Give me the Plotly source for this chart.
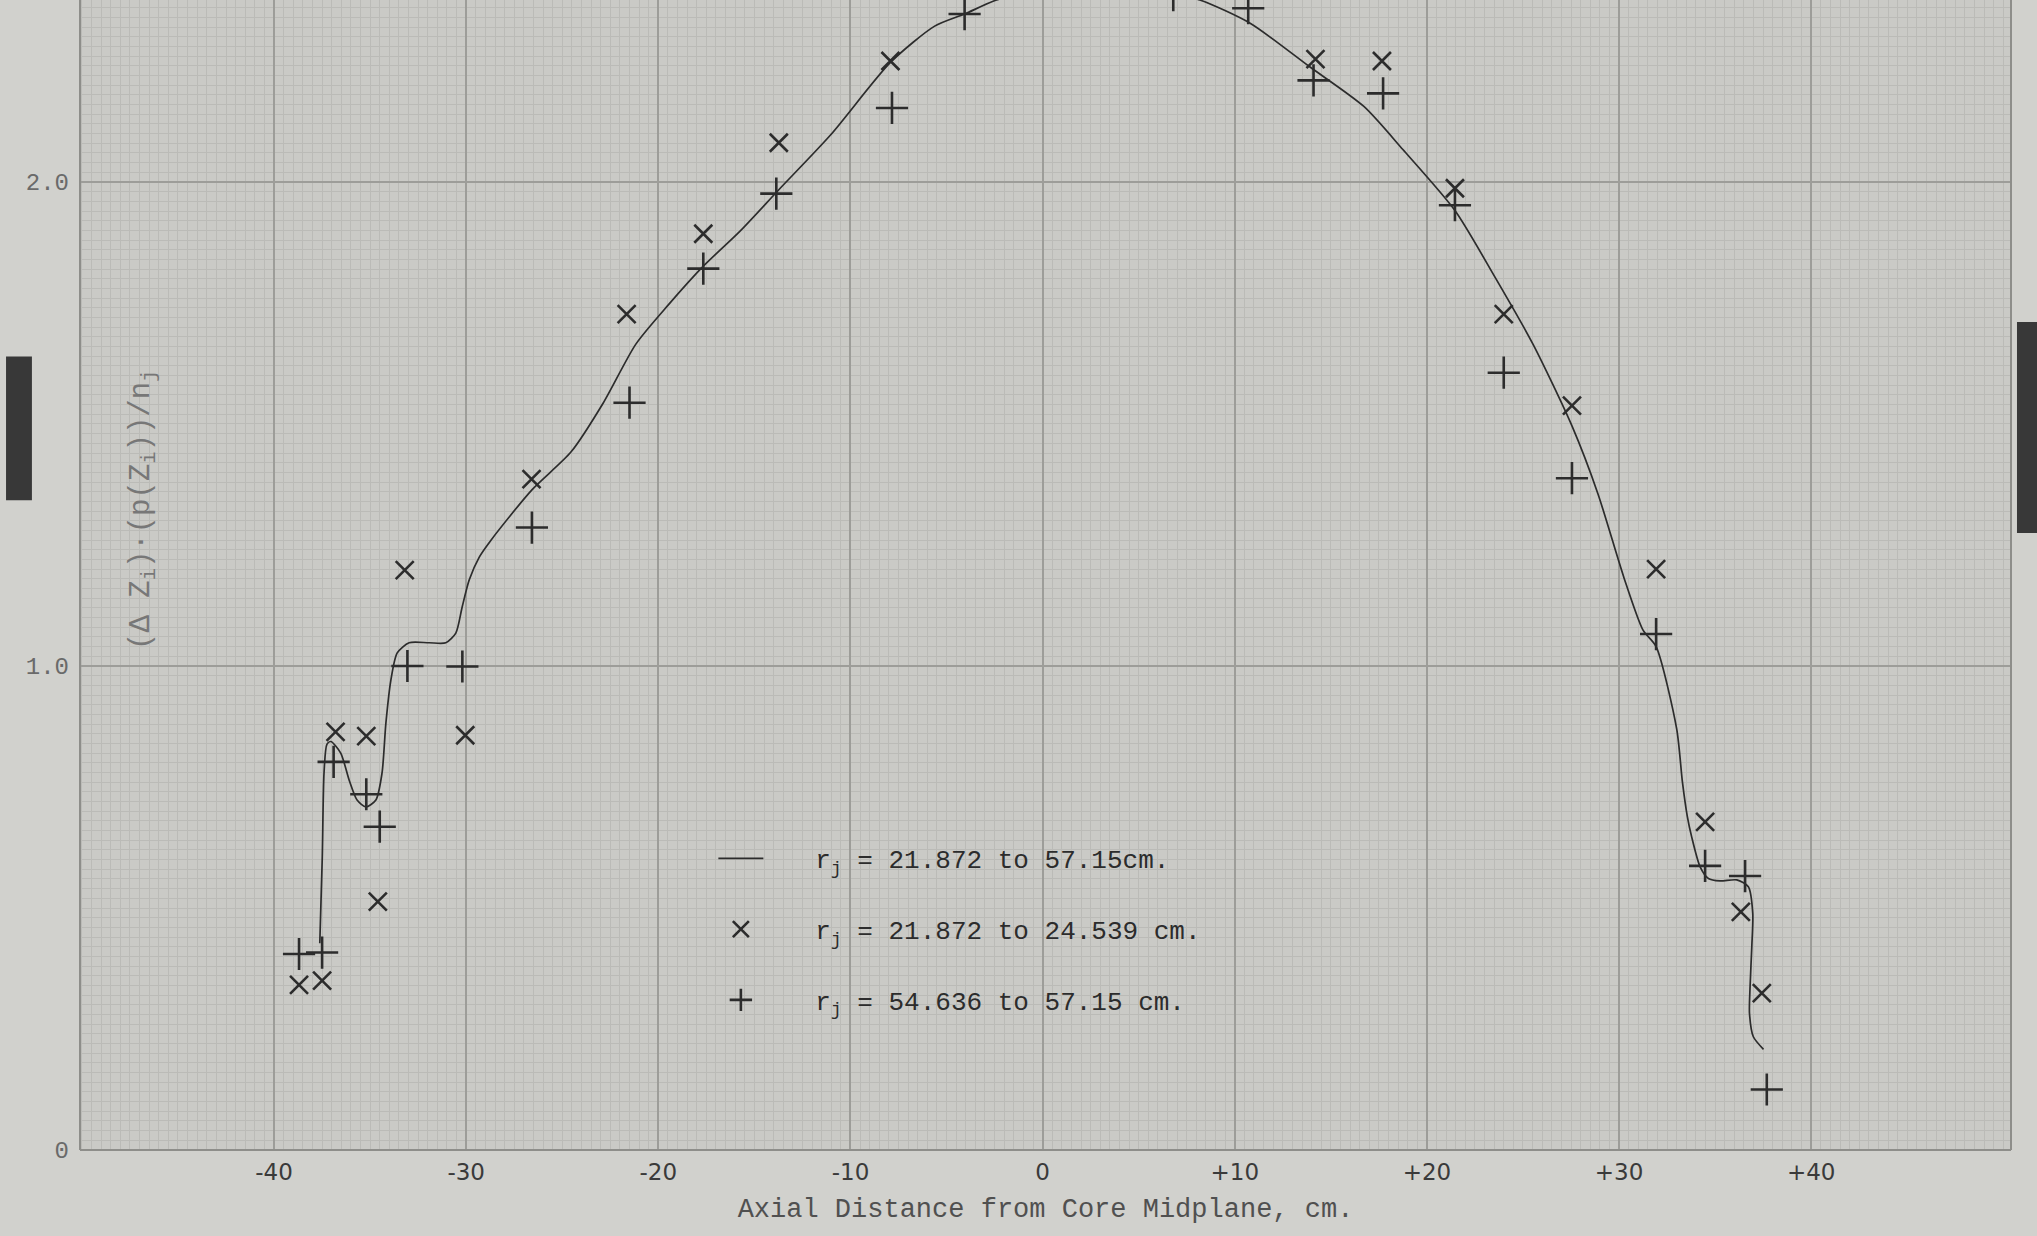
import plotly.graph_objects as go

# ---- data ----
# Smooth curve, r_j = 21.872 to 57.15 cm
curve_x = [-37.62, -37.49, -37.40, -37.25, -37.05, -36.53, -36.09, -35.68, -35.22, -34.70,
           -34.38, -34.18, -33.92, -33.59, -32.97, -31.93, -31.06, -30.54, -30.21, -29.84,
           -29.32, -28.71, -26.58, -24.55, -22.86, -21.17, -19.48, -17.66, -15.76, -13.73,
           -11.04, -7.92, -5.62, -4.06, -2.40, 0.50, 2.90, 5.50, 8.18, 10.80,
           13.90, 16.72, 18.75, 21.46, 23.49, 25.52, 27.55, 28.90, 30.26, 31.25,
           31.93, 33.00, 33.30, 33.55, 33.78, 34.22, 34.65, 35.26, 36.13, 36.73,
           36.96, 36.91, 36.82, 36.79, 36.99, 37.52]
curve_y = [0.427, 0.606, 0.779, 0.838, 0.844, 0.820, 0.764, 0.723, 0.709, 0.723,
           0.779, 0.882, 0.971, 1.027, 1.048, 1.048, 1.048, 1.068, 1.122, 1.178,
           1.225, 1.260, 1.364, 1.442, 1.544, 1.665, 1.746, 1.826, 1.898, 1.984,
           2.097, 2.247, 2.322, 2.347, 2.376, 2.403, 2.410, 2.402, 2.376, 2.328,
           2.238, 2.156, 2.067, 1.941, 1.807, 1.665, 1.496, 1.356, 1.182, 1.074,
           1.040, 0.870, 0.760, 0.690, 0.647, 0.585, 0.561, 0.556, 0.558, 0.544,
           0.489, 0.420, 0.337, 0.282, 0.234, 0.208]

# X markers, r_j = 21.872 to 24.539 cm
x_pts_x = [-38.7, -37.5, -36.8, -35.2, -34.6, -33.2, -30.05, -26.6, -21.65, -17.66,
           -13.73, -7.92, 14.2, 17.66, 21.46, 24.0, 27.55, 31.93, 34.48, 36.34, 37.43]
x_pts_y = [0.341, 0.350, 0.864, 0.855, 0.513, 1.198, 0.857, 1.386, 1.727, 1.893,
           2.081, 2.250, 2.254, 2.250, 1.987, 1.727, 1.538, 1.200, 0.678, 0.492, 0.324]

# + markers, r_j = 54.636 to 57.15 cm
p_pts_x = [-38.7, -37.5, -36.9, -35.2, -34.5, -33.06, -30.2, -26.58, -21.5, -17.66,
           -13.86, -7.84, -4.06, 6.8, 10.7, 14.1, 17.72, 21.46, 24.0, 27.55,
           31.93, 34.48, 36.56, 37.69]
p_pts_y = [0.405, 0.408, 0.802, 0.735, 0.668, 1.000, 0.999, 1.286, 1.544, 1.821,
           1.976, 2.153, 2.347, 2.386, 2.359, 2.210, 2.183, 1.952, 1.606, 1.388,
           1.066, 0.587, 0.566, 0.125]

x_tick_vals = [-40, -30, -20, -10, 0, 10, 20, 30, 40]
x_tick_text = ["-40", "-30", "-20", "-10", "0", "+10", "+20", "+30", "+40"]
y_tick_vals = [0, 1, 2]
y_tick_text = ["0", "1.0", "2.0"]

NB = "\u00a0\u00a0\u00a0"
legend_names = [NB + "r<sub>j</sub> = 21.872 to 57.15cm.",
                NB + "r<sub>j</sub> = 21.872 to 24.539 cm.",
                NB + "r<sub>j</sub> = 54.636 to 57.15 cm."]

# ---- styling ----
INK = "#2c2c2c"
MONO = "Liberation Mono, Courier New, monospace"
FINE = "#bbbbb7"
MED = "#acaca8"
HEAVY = "#9d9d99"
XR = [-50.1, 50.4]
YR = [0, 2.376]

fig = go.Figure()
fig.add_trace(go.Scatter(x=curve_x, y=curve_y, mode="lines", name=legend_names[0],
                         legendgroup="a",
                         line=dict(color=INK, width=1.7, shape="spline", smoothing=0.7)))
fig.add_trace(go.Scatter(x=x_pts_x, y=x_pts_y, mode="markers", name=legend_names[1],
                         legendgroup="b",
                         marker=dict(symbol="x-thin-open", size=18, color=INK,
                                     line=dict(color=INK, width=2.6))))
fig.add_trace(go.Scatter(x=p_pts_x, y=p_pts_y, mode="markers", name=legend_names[2],
                         legendgroup="c",
                         marker=dict(symbol="cross-thin-open", size=23, color=INK,
                                     line=dict(color=INK, width=2.6))))

fig.update_layout(
    width=2037, height=1236,
    margin=dict(l=80, r=26, t=0, b=86, autoexpand=False),
    paper_bgcolor="#d1d1cd",
    plot_bgcolor="#cacac6",
    showlegend=True,
    legend=dict(x=0.328, y=0.274, xanchor="left", yanchor="top",
                bgcolor="rgba(0,0,0,0)", borderwidth=0,
                font=dict(family=MONO, size=26, color=INK),
                itemwidth=45, tracegroupgap=34, itemsizing="trace"),
    xaxis=dict(range=XR, tickmode="array", tickvals=x_tick_vals, ticktext=x_tick_text,
               showgrid=True, gridcolor=HEAVY, gridwidth=1.5, zeroline=False,
               ticks="", ticklabelstandoff=6, showline=False, automargin=False,
               tickfont=dict(family="DejaVu Sans, sans-serif", size=23, color="#3a3a3a"),
               minor=dict(tickmode="linear", tick0=0, dtick=0.5, showgrid=True,
                          gridcolor=FINE, gridwidth=1),
               title=dict(text="Axial Distance from Core Midplane, cm.", standoff=14,
                          font=dict(family=MONO, size=27, color="#505050"))),
    yaxis=dict(range=YR, tickmode="array", tickvals=y_tick_vals, ticktext=y_tick_text,
               showgrid=True, gridcolor=HEAVY, gridwidth=1.5, zeroline=False,
               ticks="", ticklabelstandoff=10, showline=False, automargin=False,
               tickfont=dict(family=MONO, size=24, color="#6a6a6a"),
               minor=dict(tickmode="linear", tick0=0, dtick=0.02, showgrid=True,
                          gridcolor=FINE, gridwidth=1)),
    xaxis2=dict(range=XR, overlaying="x", anchor="y", tickmode="linear", tick0=0, dtick=5,
                showgrid=True, gridcolor=HEAVY, gridwidth=1.5, showticklabels=False,
                ticks="", zeroline=False, showline=False, automargin=False,
                minor=dict(tickmode="linear", tick0=0, dtick=2.5, showgrid=True,
                           gridcolor=MED, gridwidth=1)),
    yaxis2=dict(range=YR, overlaying="y", anchor="x", tickmode="linear", tick0=0, dtick=0.2,
                showgrid=True, gridcolor=HEAVY, gridwidth=1.5, showticklabels=False,
                ticks="", zeroline=False, showline=False, automargin=False,
                minor=dict(tickmode="linear", tick0=0, dtick=0.1, showgrid=True,
                           gridcolor=MED, gridwidth=1)),
    annotations=[dict(text="(\u0394 Z<sub>i</sub>)\u00b7(p(Z<sub>i</sub>))/n<sub>j</sub>",
                      xref="paper", yref="paper", x=0.0225, y=0.557,
                      textangle=-90, showarrow=False,
                      font=dict(family=MONO, size=29, color="#777777"))],
    shapes=[
        dict(type="rect", xref="paper", yref="paper", x0=-0.0383, x1=-0.0249,
             y0=0.565, y1=0.69, fillcolor="#383838", line=dict(width=0), layer="above"),
        dict(type="rect", xref="paper", yref="paper", x0=1.0031, x1=1.0135,
             y0=0.5365, y1=0.72, fillcolor="#383838", line=dict(width=0), layer="above"),
        dict(type="line", xref="paper", yref="paper", x0=0, x1=1, y0=0, y1=0,
             line=dict(color="#8e8e8a", width=2)),
        dict(type="line", xref="paper", yref="paper", x0=0, x1=0, y0=0, y1=1,
             line=dict(color="#8e8e8a", width=2)),
        dict(type="line", xref="paper", yref="paper", x0=1, x1=1, y0=0, y1=1,
             line=dict(color="#8e8e8a", width=2)),
    ],
)

fig.write_html("out.html",
               config={"displayModeBar": False},
               post_script="document.body.style.margin='0';"
                           "document.body.style.overflow='hidden';"
                           "document.body.style.background='#d1d1cd';")
